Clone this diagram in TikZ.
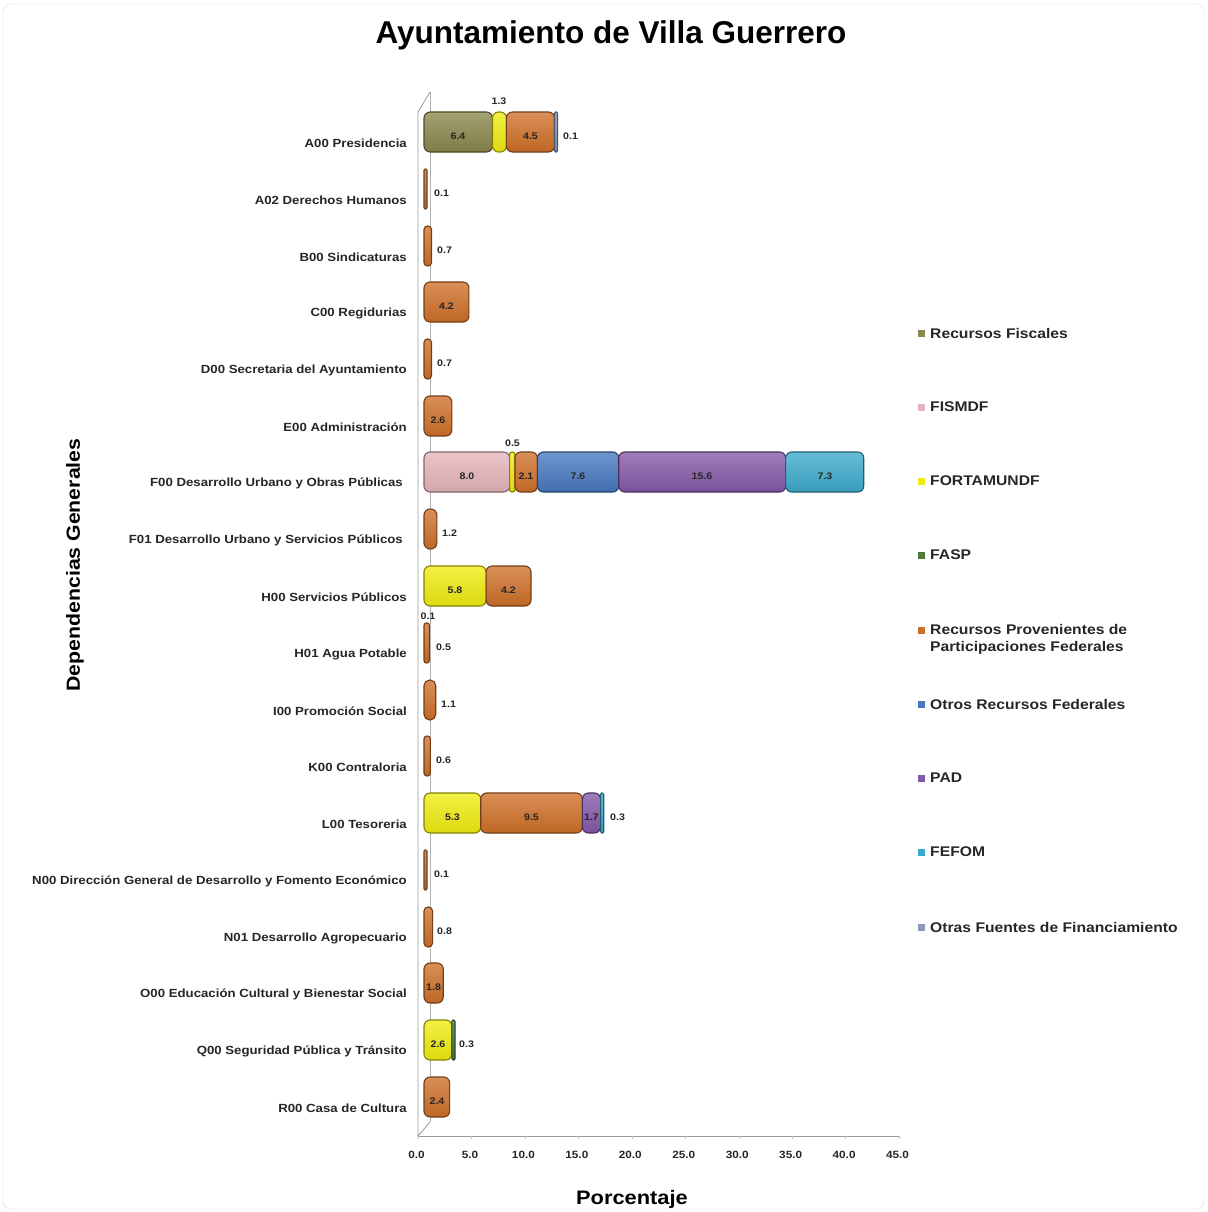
\documentclass[tikz,border=0pt]{standalone}
\usepackage{fontspec}
\setmainfont{Liberation Sans}
\newfontfamily\wb{Liberation Sans Bold}[FakeStretch=1.12]
\newfontfamily\tb{Liberation Sans Bold}
\definecolor{cRF}{HTML}{8A874C}
\definecolor{cFIS}{HTML}{E6B4BA}
\definecolor{cFOR}{HTML}{F0EC10}
\definecolor{cFASP}{HTML}{4E7A3A}
\definecolor{cPAR}{HTML}{CF7028}
\definecolor{cORF}{HTML}{4678C0}
\definecolor{cPAD}{HTML}{8458A8}
\definecolor{cFEF}{HTML}{3CAACC}
\definecolor{cOTR}{HTML}{8A9AB8}
\newcommand\seg[4]{%
  \pgfmathsetmacro\xa{424+10.7*#2}%
  \pgfmathsetmacro\ww{max(10.7*#3,3)}%
  \pgfmathsetmacro\xb{\xa+\ww}%
  \pgfmathsetmacro\rr{min(6,\ww/2-0.3)}%
  \path[draw=#4!55!black, line width=1.1pt, top color=#4!78!white, bottom color=#4!92!black, rounded corners=\rr pt] (\xa,#1-31) rectangle (\xb,#1+9);%
}
\begin{document}
\begin{tikzpicture}[x=1pt,y=-1pt,
  cat/.style={font=\wb\fontsize{11.8}{13}\selectfont, text=black!85, anchor=east, inner sep=0},
  vl/.style={font=\wb\fontsize{9.5}{10}\selectfont, text=black!85, inner sep=0},
  vr/.style={vl, anchor=west},
  tk/.style={font=\wb\fontsize{10.5}{11}\selectfont, text=black!85, inner sep=0},
  lg/.style={font=\wb\fontsize{14}{17}\selectfont, text=black!85, anchor=west, inner sep=0, align=left},
  sq/.style={minimum size=7pt, inner sep=0, draw=none}]
\useasboundingbox (0,0) rectangle (1207,1212);
\draw[black!15, rounded corners=8pt] (3,4) rectangle (1204,1209);
% title
\node[font=\tb\fontsize{31.5}{34}\selectfont, inner sep=0] (title) at (611,35) {Ayuntamiento de Villa Guerrero};
% axes / 3D wall
\draw[black!30, line width=0.8pt] (430,92) -- (430,1122);
\draw[black!40, line width=0.8pt] (430,92) -- (418,112) -- (418,1136) -- (430,1122);
\draw[black!40, line width=0.8pt] (418,1136) -- (900,1136);
\foreach \v in {0,5,...,45} {
  \draw[black!25] (418+10.69*\v,1136) -- (418+10.69*\v,1139);
}
\foreach \v [count=\i] in {0,5,...,45} {
  \node[tk] (t\i) at (416.5+10.69*\v,1155) {\v.0};
}
\node[font=\wb\fontsize{19.5}{21}\selectfont, inner sep=0] (xt) at (632,1199) {Porcentaje};
\node[font=\wb\fontsize{19}{21}\selectfont, inner sep=0, rotate=90] (yt) at (75,565) {Dependencias Generales};
% category labels
\node[cat] (cA00) at (407,143) {A00 Presidencia};
\node[cat] (cA02) at (407,200) {A02 Derechos Humanos};
\node[cat] (cB00) at (407,257) {B00 Sindicaturas};
\node[cat] (cC00) at (407,313) {C00 Regidurias};
\node[cat] (cD00) at (407,370) {D00 Secretaria del Ayuntamiento};
\node[cat] (cE00) at (407,427) {E00 Administración};
\node[cat] (cF00) at (403,483) {F00 Desarrollo Urbano y Obras Públicas};
\node[cat] (cF01) at (403,540) {F01 Desarrollo Urbano y Servicios Públicos};
\node[cat] (cH00) at (407,597) {H00 Servicios Públicos};
\node[cat] (cH01) at (407,654) {H01 Agua Potable};
\node[cat] (cI00) at (407,711) {I00 Promoción Social};
\node[cat] (cK00) at (407,767) {K00 Contraloria};
\node[cat] (cL00) at (407,824) {L00 Tesoreria};
\node[cat] (cN00) at (407,881) {N00 Dirección General de Desarrollo y Fomento Económico};
\node[cat] (cN01) at (407,938) {N01 Desarrollo Agropecuario};
\node[cat] (cO00) at (407,994) {O00 Educación Cultural y Bienestar Social};
\node[cat] (cQ00) at (407,1051) {Q00 Seguridad Pública y Tránsito};
\node[cat] (cR00) at (407,1108) {R00 Casa de Cultura};
% bars
\seg{143}{0}{6.4}{cRF}\seg{143}{6.4}{1.3}{cFOR}\seg{143}{7.7}{4.5}{cPAR}\seg{143}{12.2}{0.1}{cOTR}
\node[vl] (vA1) at (458,136) {6.4};
\node[vl] (vA2) at (499,101) {1.3};
\node[vl] (vA3) at (530.5,136) {4.5};
\node[vr] (vA4) at (563,136) {0.1};
\seg{200}{0}{0.1}{cPAR}
\node[vr] (vB1) at (434,193) {0.1};
\seg{257}{0}{0.7}{cPAR}
\node[vr] (vC1) at (437,250) {0.7};
\seg{313}{0}{4.2}{cPAR}
\node[vl] (vD1) at (446.5,306) {4.2};
\seg{370}{0}{0.7}{cPAR}
\node[vr] (vE1) at (437,363) {0.7};
\seg{427}{0}{2.6}{cPAR}
\node[vl] (vF1) at (438,420) {2.6};
\seg{483}{0}{8.0}{cFIS}\seg{483}{8.0}{0.5}{cFOR}\seg{483}{8.5}{2.1}{cPAR}\seg{483}{10.6}{7.6}{cORF}\seg{483}{18.2}{15.6}{cPAD}\seg{483}{33.8}{7.3}{cFEF}
\node[vl] (vG1) at (467,476) {8.0};
\node[vl] (vG2) at (512.5,443) {0.5};
\node[vl] (vG3) at (526,476) {2.1};
\node[vl] (vG4) at (578,476) {7.6};
\node[vl] (vG5) at (702,476) {15.6};
\node[vl] (vG6) at (825,476) {7.3};
\seg{540}{0}{1.2}{cPAR}
\node[vr] (vH1) at (442,533) {1.2};
\seg{597}{0}{5.8}{cFOR}\seg{597}{5.8}{4.2}{cPAR}
\node[vl] (vI1) at (455,590) {5.8};
\node[vl] (vI2) at (508.5,590) {4.2};
\seg{654}{0}{0.5}{cPAR}
\node[vl] (vJ1) at (428,616) {0.1};
\node[vr] (vJ2) at (436,647) {0.5};
\seg{711}{0}{1.1}{cPAR}
\node[vr] (vK1) at (441,704) {1.1};
\seg{767}{0}{0.6}{cPAR}
\node[vr] (vL1) at (436,760) {0.6};
\seg{824}{0}{5.3}{cFOR}\seg{824}{5.3}{9.5}{cPAR}\seg{824}{14.8}{1.7}{cPAD}\seg{824}{16.5}{0.3}{cFEF}
\node[vl] (vM1) at (452.5,817) {5.3};
\node[vl] (vM2) at (531.5,817) {9.5};
\node[vl] (vM3) at (591.5,817) {1.7};
\node[vr] (vM4) at (610,817) {0.3};
\seg{881}{0}{0.1}{cPAR}
\node[vr] (vN1) at (434,874) {0.1};
\seg{938}{0}{0.8}{cPAR}
\node[vr] (vO1) at (437,931) {0.8};
\seg{994}{0}{1.8}{cPAR}
\node[vl] (vP1) at (433.6,987) {1.8};
\seg{1051}{0}{2.6}{cFOR}\seg{1051}{2.6}{0.3}{cFASP}
\node[vl] (vQ1) at (438,1044) {2.6};
\node[vr] (vQ2) at (459,1044) {0.3};
\seg{1108}{0}{2.4}{cPAR}
\node[vl] (vR1) at (437,1101) {2.4};
% legend
\node[sq, fill=cRF] (s1) at (921.5,333) {};
\node[lg] (l1) at (930,333) {Recursos Fiscales};
\node[sq, fill=cFIS] (s2) at (921.5,407) {};
\node[lg] (l2) at (930,407) {FISMDF};
\node[sq, fill=cFOR] (s3) at (921.5,481) {};
\node[lg] (l3) at (930,481) {FORTAMUNDF};
\node[sq, fill=cFASP] (s4) at (921.5,555) {};
\node[lg] (l4) at (930,555) {FASP};
\node[sq, fill=cPAR] (s5) at (921.5,630) {};
\node[lg] (l5) at (930,639) {Recursos Provenientes de\\Participaciones Federales};
\node[sq, fill=cORF] (s6) at (921.5,704) {};
\node[lg] (l6) at (930,704) {Otros Recursos Federales};
\node[sq, fill=cPAD] (s7) at (921.5,778) {};
\node[lg] (l7) at (930,778) {PAD};
\node[sq, fill=cFEF] (s8) at (921.5,852) {};
\node[lg] (l8) at (930,852) {FEFOM};
\node[sq, fill=cOTR] (s9) at (921.5,927) {};
\node[lg] (l9) at (930,927) {Otras Fuentes de Financiamiento};
\end{tikzpicture}
\end{document}
